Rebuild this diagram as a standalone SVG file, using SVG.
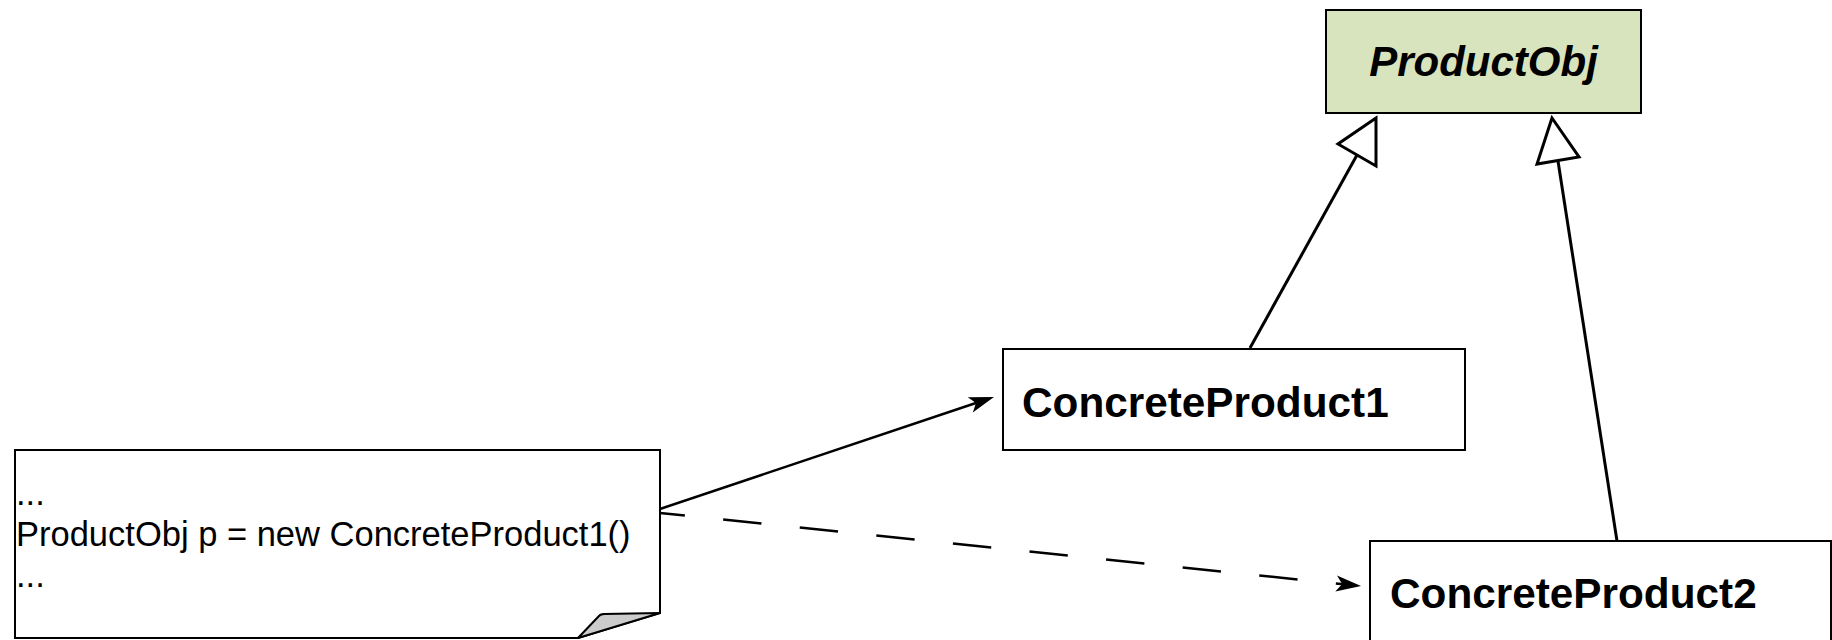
<svg xmlns="http://www.w3.org/2000/svg" width="1832" height="640" viewBox="0 0 1832 640">
  <style>
    .box { fill: #ffffff; stroke: #000000; stroke-width: 2; }
    .abstract { fill: #d7e4bd; stroke: #000000; stroke-width: 2; }
    .cls { font-family: "Liberation Sans", Arial, sans-serif; font-weight: bold; font-size: 42.3px; fill: #000; }
    .note-text { font-family: "Liberation Sans", Arial, sans-serif; font-size: 34.5px; fill: #000; }
    .edge { fill: none; stroke: #000; stroke-width: 2.5; }
    .gen { fill: none; stroke: #000; stroke-width: 3; }
    .tri { fill: #ffffff; stroke: #000; stroke-width: 3; stroke-linejoin: miter; }
  </style>
  <defs>
    <marker id="arrow" markerUnits="userSpaceOnUse" markerWidth="30" markerHeight="20" viewBox="0 0 30 20" refX="14" refY="10" orient="auto">
      <path d="M1,2 L26,10 L1,18 L7,10 Z" fill="#000"/>
    </marker>
  </defs>

  <g id="ProductObj">
    <rect class="abstract" x="1326" y="10" width="315" height="103"/>
    <text x="1483.5" y="76" text-anchor="middle" font-family="Liberation Sans, Arial, sans-serif" font-weight="bold" font-style="italic" font-size="42" fill="#000">ProductObj</text>
  </g>

  <g id="ConcreteProduct1">
    <rect class="box" x="1003" y="349" width="462" height="101"/>
    <text class="cls" x="1022" y="417">ConcreteProduct1</text>
  </g>

  <g id="ConcreteProduct2">
    <rect class="box" x="1370" y="541" width="461" height="110"/>
    <text class="cls" x="1390" y="608">ConcreteProduct2</text>
  </g>

  <g id="note">
    <path class="box" stroke-width="2.5" d="M15,450 L660,450 L660,613 L578,638 L15,638 Z"/>
    <path d="M660,613 L604,614 Q600,614 598,617 L578,638 Z" fill="#cccccc" stroke="#000" stroke-width="2" stroke-linejoin="round"/>
    <text class="note-text" x="16" y="505">...</text>
    <text class="note-text" x="16" y="546">ProductObj p = new ConcreteProduct1()</text>
    <text class="note-text" x="16" y="587">...</text>
  </g>

  <g id="connectors">
    <line class="edge" x1="660" y1="509" x2="982.6" y2="400.8" marker-end="url(#arrow)"/>
    <line class="edge" x1="660" y1="513" x2="1349.1" y2="584.8" stroke-dasharray="38.5 38.5" stroke-dashoffset="13.5" marker-end="url(#arrow)"/>
    <line class="gen" x1="1250" y1="348" x2="1357" y2="155"/>
    <polygon class="tri" points="1376,118 1338,144 1376,166"/>
    <line class="gen" x1="1617" y1="541" x2="1558" y2="161"/>
    <polygon class="tri" points="1552,118 1537,164 1579,157"/>
  </g>
</svg>
